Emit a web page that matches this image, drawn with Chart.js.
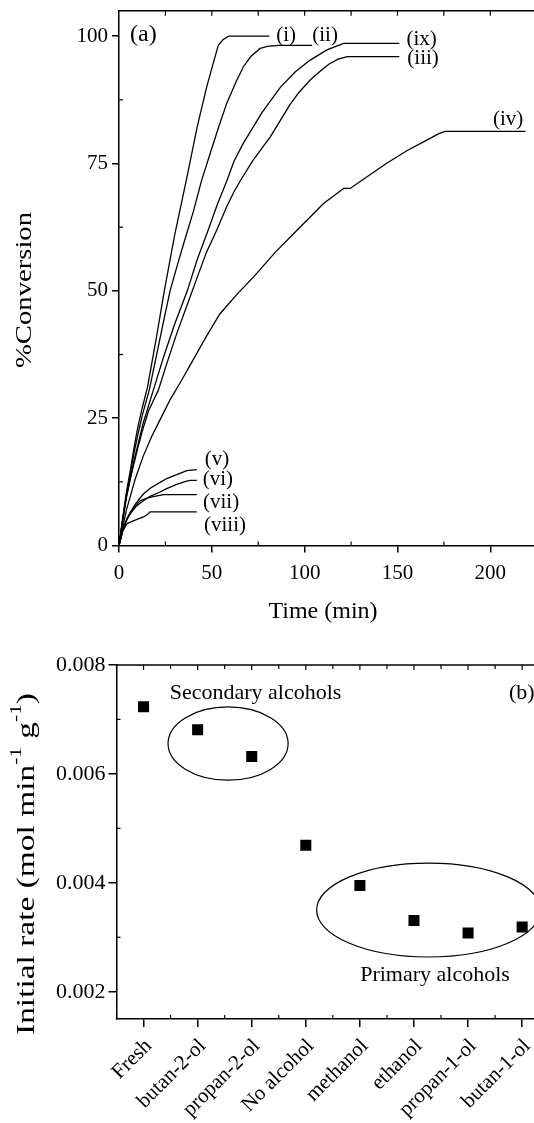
<!DOCTYPE html>
<html><head><meta charset="utf-8">
<script src="https://cdn.jsdelivr.net/npm/chart.js@4/dist/chart.umd.min.js"></script>
<style>
html,body{margin:0;padding:0;background:#fff;overflow:hidden;width:534px;height:1123px;}
#wa{position:absolute;left:0;top:0;width:546px;height:640px;}
#wb{position:absolute;left:0;top:640px;width:600px;height:483px;}
canvas{display:block;}
</style></head><body>
<div id="wa"><canvas id="ca" width="546" height="640"></canvas></div>
<div id="wb"><canvas id="cb" width="549" height="483"></canvas></div>
<script>
// ---------- Panel (a) data ----------
const xTicksA = [0, 50, 100, 150, 200];
const yTicksA = [0, 25, 50, 75, 100];
const xMinorA = [25, 75, 125, 175, 225];
const xTopA = [25, 50, 75, 100, 125, 150, 175, 200, 225];
const yMinorA = [12.5, 37.5, 62.5, 87.5];

const t_i = [0, 2, 4, 6, 8, 10, 12.5, 15.3, 20, 24.4, 30, 37, 42, 47.2, 51, 53.5, 56, 59, 81];
const v_i = [0, 5.5, 10.5, 14.5, 19, 23, 27, 31, 40.5, 50, 61, 73, 82, 90, 95, 98.2, 99.3, 100, 100];

const t_ii = [0, 2, 4, 6, 8, 10, 12.5, 16.3, 20, 24, 27.5, 31, 35, 40, 44.5, 50, 54, 58, 63, 67, 71, 76, 80, 86, 104];
const v_ii = [0, 5, 10, 14, 18, 21.5, 25.5, 30.5, 37, 44, 50, 54.5, 59.5, 65.5, 71.7, 78, 82.5, 86.8, 91, 94, 96, 97.6, 98, 98.2, 98.2];

const t_ix = [0, 2, 4, 6, 8, 10, 13, 18.5, 24, 30, 36.8, 42, 48, 53, 58, 62, 67, 72, 77, 82, 87, 95, 103, 112, 121, 151];
const v_ix = [0, 5, 9.5, 13, 16.5, 19.5, 24, 30.5, 37, 43.5, 50, 56, 61.9, 67, 71.5, 75.5, 79, 82, 85, 87.5, 90, 93, 95.3, 97.3, 98.6, 98.6];

const t_iii = [0, 2, 4, 6, 8, 10, 13, 16, 21.2, 26, 31, 37, 42, 47, 52.6, 58, 62, 66, 72, 77, 81.4, 87, 92, 97, 103, 108, 113, 118, 123, 151];
const v_iii = [0, 5, 9.5, 13, 16, 19, 23, 26.5, 30.5, 36, 41.5, 47.5, 52.5, 57.5, 61.9, 66.5, 69.5, 72, 75.5, 78, 80.2, 83.5, 86.5, 89, 91.4, 93, 94.5, 95.5, 96, 96];

const t_iv = [0, 2, 4, 6, 8.6, 13, 17.6, 23.5, 27.5, 33.8, 40, 47, 54.4, 64, 72.4, 84, 94, 103, 110, 117, 121, 124.5, 134, 144, 155, 165.8, 172, 175.6, 219];
const v_iv = [0, 3.5, 7, 9.5, 12.9, 17.5, 21.4, 25.7, 28.6, 32.5, 36.5, 41, 45.5, 49.5, 52.7, 57.5, 61.2, 64.5, 67.1, 69, 70.1, 70.1, 72.5, 75, 77.5, 79.6, 80.8, 81.3, 81.3];

const t_v = [0, 2, 4.3, 6, 9, 13.1, 17, 22.1, 26, 31.1, 36.5, 41.9];
const v_v = [0, 3, 5.3, 6.5, 8.2, 10.1, 11.3, 12.4, 13.2, 13.9, 14.7, 14.9];

const t_vi = [0, 2, 4.3, 6, 9, 13.1, 17, 22.1, 26, 31.1, 36, 38.3, 41.9];
const v_vi = [0, 3, 5.2, 6.2, 7.6, 8.8, 9.7, 10.5, 11.2, 12, 12.6, 12.8, 12.8];

const t_vii = [0, 2, 4.3, 6, 8, 11.5, 15, 18.5, 24, 41.9];
const v_vii = [0, 3, 5.1, 6.2, 7.4, 8.8, 9.3, 9.6, 10, 10];

const t_viii = [0, 2, 4.3, 8, 13.1, 15, 16.8, 41.9];
const v_viii = [0, 2.8, 4.3, 4.9, 5.6, 6, 6.6, 6.6];

const curveNames = ['(i)', '(ii)', '(ix)', '(iii)', '(iv)', '(v)', '(vi)', '(vii)', '(viii)'];
const curveTimes = [t_i, t_ii, t_ix, t_iii, t_iv, t_v, t_vi, t_vii, t_viii];
const curveValues = [v_i, v_ii, v_ix, v_iii, v_iv, v_v, v_vi, v_vii, v_viii];

// ---------- Panel (b) data ----------
const categories = ['Fresh', 'butan-2-ol', 'propan-2-ol', 'No alcohol', 'methanol', 'ethanol', 'propan-1-ol', 'butan-1-ol'];
const initialRate = [0.00723, 0.00681, 0.00632, 0.00469, 0.00395, 0.00331, 0.00308, 0.00319];
const yTicksB = [0.002, 0.004, 0.006, 0.008];
const yMinorB = [0.003, 0.005, 0.007];

const FONT = "'Liberation Serif', 'Times New Roman', serif";

// label anchor positions (layout, in data units of panel a)
const labelLayoutA = {
  '(i)': [90, 100.1], '(ii)': [111, 100.1], '(ix)': [163, 99.3], '(iii)': [163.8, 95.6],
  '(iv)': [209.6, 83.6], '(v)': [52.8, 16.8], '(vi)': [53.3, 12.9], '(vii)': [55, 8.35], '(viii)': [57.1, 4.0]
};

function seg(ctx, x1, y1, x2, y2) { ctx.beginPath(); ctx.moveTo(x1, y1); ctx.lineTo(x2, y2); ctx.stroke(); }

// vertical (rotated) title, stretched along its length to a given pixel length
function drawVerticalTitle(ctx, parts, cx, cy, size, targetLen) {
  ctx.save();
  ctx.translate(cx, cy);
  ctx.rotate(-Math.PI / 2);
  const small = Math.round(size * 0.62);
  let w = 0;
  for (const p of parts) { ctx.font = (p.sup ? small : size) + 'px ' + FONT; w += ctx.measureText(p.t).width; }
  const k = targetLen / w;
  ctx.scale(k, 1);
  let xx = -w / 2;
  ctx.textAlign = 'left';
  ctx.textBaseline = 'middle';
  ctx.fillStyle = '#000';
  for (const p of parts) {
    ctx.font = (p.sup ? small : size) + 'px ' + FONT;
    ctx.fillText(p.t, xx, p.sup ? -size * 0.4 : 0);
    xx += ctx.measureText(p.t).width;
  }
  ctx.restore();
}

const decoA = {
  id: 'decoA',
  afterDraw(chart) {
    const { ctx, chartArea: ca, scales: { x, y } } = chart;
    ctx.save();
    ctx.strokeStyle = '#000';
    ctx.lineWidth = 1.5;
    seg(ctx, ca.left, ca.top, ca.right, ca.top);
    ctx.lineWidth = 1.2;
    for (const t of xTopA) { const px = x.getPixelForValue(t); seg(ctx, px, ca.top, px, ca.top + 5); }
    for (const t of xMinorA) { const px = x.getPixelForValue(t); seg(ctx, px, ca.bottom, px, ca.bottom - 4); }
    for (const v of yMinorA) { const py = y.getPixelForValue(v); seg(ctx, ca.left, py, ca.left + 4, py); }
    ctx.fillStyle = '#000';
    ctx.textBaseline = 'middle';
    ctx.textAlign = 'center';
    ctx.font = '21px ' + FONT;
    for (const name of curveNames) {
      const p = labelLayoutA[name];
      ctx.fillText(name, x.getPixelForValue(p[0]), y.getPixelForValue(p[1]));
    }
    ctx.font = '24px ' + FONT;
    ctx.textAlign = 'left';
    ctx.fillText('(a)', 130, 35);
    ctx.textAlign = 'center';
    ctx.fillText('Time (min)', 323, 612);
    ctx.restore();
    drawVerticalTitle(ctx, [{ t: '%Conversion', sup: false }], 25, 290, 24, 156);
  }
};

const chartA = new Chart(document.getElementById('ca'), {
  type: 'line',
  data: {
    datasets: curveNames.map((n, k) => ({
      label: n,
      data: curveTimes[k].map((t, i) => ({ x: t, y: curveValues[k][i] })),
      borderColor: '#000', borderWidth: 1.3, pointRadius: 0, tension: 0, fill: false
    }))
  },
  options: {
    responsive: false, animation: false, devicePixelRatio: 1,
    layout: { padding: { left: 0, right: 0, top: 10.7, bottom: 0 } },
    plugins: { legend: { display: false }, tooltip: { enabled: false } },
    scales: {
      x: {
        type: 'linear', min: 0, max: 230,
        afterBuildTicks(s) { s.ticks = xTicksA.map(v => ({ value: v })); },
        afterFit(s) { s.height = 94.5; s.paddingLeft = 0; s.paddingRight = 0; s.paddingTop = 0; s.paddingBottom = 0; },
        grid: { drawOnChartArea: false, tickLength: 7, color: '#000', lineWidth: 1.5 },
        border: { color: '#000', width: 1.5 },
        ticks: { color: '#000', font: { family: FONT, size: 21 }, padding: 8, maxRotation: 0 }
      },
      y: {
        min: 0, max: 105,
        afterBuildTicks(s) { s.ticks = yTicksA.map(v => ({ value: v })); },
        afterFit(s) { s.width = 119; s.paddingTop = 0; s.paddingBottom = 0; s.paddingLeft = 0; s.paddingRight = 0; },
        grid: { drawOnChartArea: false, tickLength: 7, color: '#000', lineWidth: 1.5 },
        border: { color: '#000', width: 1.5 },
        ticks: { color: '#000', font: { family: FONT, size: 21 }, padding: 4 }
      }
    }
  },
  plugins: [decoA]
});

// ---------- Panel (b) ----------
const ellipsesB = [
  { cx: 1.563, cy: 0.006556, rx: 1.11, ry: 0.000672 },
  { cx: 5.27, cy: 0.0035, rx: 2.07, ry: 0.000862 }
];

const decoB = {
  id: 'decoB',
  afterDraw(chart) {
    const { ctx, chartArea: ca, scales: { x, y } } = chart;
    ctx.save();
    ctx.strokeStyle = '#000';
    ctx.lineWidth = 1.5;
    seg(ctx, ca.left, ca.top, ca.right, ca.top);
    ctx.lineWidth = 1.2;
    for (let i = 0; i < categories.length; i++) {
      const a = x.getPixelForValue(i), b = x.getPixelForValue(i - 0.5);
      seg(ctx, a, ca.top, a, ca.top + 5);
      seg(ctx, b, ca.top, b, ca.top + 4);
      seg(ctx, b, ca.bottom, b, ca.bottom - 4);
    }
    for (const v of yMinorB) { const py = y.getPixelForValue(v); seg(ctx, ca.left, py, ca.left + 4, py); }
    ctx.lineWidth = 1.2;
    for (const e of ellipsesB) {
      const px = x.getPixelForValue(e.cx), py = y.getPixelForValue(e.cy);
      const rx = Math.abs(x.getPixelForValue(e.cx + e.rx) - px);
      const ry = Math.abs(y.getPixelForValue(e.cy + e.ry) - py);
      ctx.beginPath(); ctx.ellipse(px, py, rx, ry, 0, 0, Math.PI * 2); ctx.stroke();
    }
    ctx.fillStyle = '#000';
    ctx.font = '22px ' + FONT;
    ctx.textBaseline = 'middle';
    ctx.textAlign = 'center';
    ctx.fillText('Secondary alcohols', 255.5, 52.8);
    ctx.fillText('Primary alcohols', 435, 334.8);
    ctx.textAlign = 'left';
    ctx.fillText('(b)', 509, 53);
    ctx.restore();
    drawVerticalTitle(ctx, [
      { t: 'Initial rate (mol min', sup: false }, { t: '-1', sup: true },
      { t: ' g', sup: false }, { t: '-1', sup: true }, { t: ')', sup: false }
    ], 27, 224, 25, 342);
  }
};

function makeB(w) {
  const cv = document.getElementById('cb');
  cv.width = w; cv.height = 483;
  return new Chart(cv, {
    type: 'line',
    data: {
      labels: categories,
      datasets: [{
        data: initialRate, showLine: false, pointStyle: 'rect', pointRadius: 7.8,
        pointBackgroundColor: '#000', pointBorderColor: '#000', pointBorderWidth: 0
      }]
    },
    options: {
      responsive: false, animation: false, devicePixelRatio: 1,
      layout: { padding: { left: 0, right: 0, top: 24.9, bottom: 0 } },
      plugins: { legend: { display: false }, tooltip: { enabled: false } },
      scales: {
        x: {
          type: 'category', offset: true,
          afterFit(s) { s.height = 104; s.paddingLeft = 0; s.paddingRight = 0; s.paddingTop = 0; s.paddingBottom = 0; },
          grid: { offset: false, drawOnChartArea: false, tickLength: 8, color: '#000', lineWidth: 1.5 },
          border: { color: '#000', width: 1.5 },
          ticks: { autoSkip: false, minRotation: 45, maxRotation: 45, color: '#000', font: { family: FONT, size: 21 }, padding: 7, labelOffset: 5 }
        },
        y: {
          min: 0.0015, max: 0.008,
          afterBuildTicks(s) { s.ticks = yTicksB.map(v => ({ value: v })); },
          afterFit(s) { s.width = 116.5; s.paddingTop = 0; s.paddingBottom = 0; s.paddingLeft = 0; s.paddingRight = 0; },
          grid: { drawOnChartArea: false, tickLength: 8, color: '#000', lineWidth: 1.5 },
          border: { color: '#000', width: 1.5 },
          ticks: { color: '#000', font: { family: FONT, size: 22 }, padding: 3, callback: v => Number(v).toFixed(3) }
        }
      }
    },
    plugins: [decoB]
  });
}
// build panel (b); if the library leaves extra right padding, widen the canvas so the plot keeps its intended extent
let chartB = makeB(549);
const errB = 549 - chartB.chartArea.right;
if (Math.abs(errB) > 0.5) { chartB.destroy(); chartB = makeB(Math.round(549 + errB)); }
</script>
</body></html>
